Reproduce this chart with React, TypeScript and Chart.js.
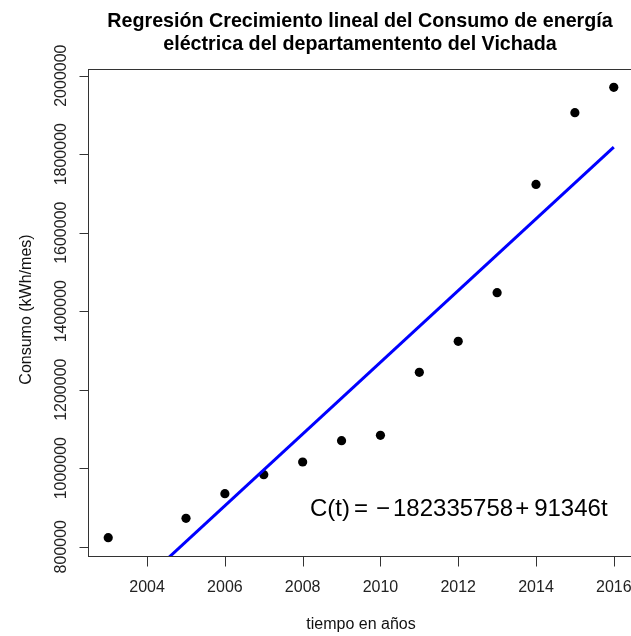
import { useEffect, useRef } from 'react';
import { Chart, registerables } from 'chart.js';

Chart.register(...registerables);

// Consumo anual de energía eléctrica (kWh/mes) del Vichada
const years = [2003, 2005, 2006, 2007, 2008, 2009, 2010, 2011, 2012, 2013, 2014, 2015, 2016];
const consumo = [
  823000, 872400, 935000, 983400, 1015800, 1070000, 1083800,
  1244300, 1323300, 1447100, 1723000, 1905700, 1970400,
];

// Coeficientes de la recta de regresión C(t) = a + b t
const intercept = -182335758;
const slope = 91346;

const xTicks = [2004, 2006, 2008, 2010, 2012, 2014, 2016];
const yTicks = [800000, 1000000, 1200000, 1400000, 1600000, 1800000, 2000000];

const titleLines = [
  'Regresión Crecimiento lineal del Consumo de energía',
  'eléctrica del departamentento del Vichada',
];
const xTitle = 'tiempo en años';
const yTitle = 'Consumo (kWh/mes)';

// Rango de ejes con la extensión del 4 % usada por R
const xMin = 2002.48;
const xMax = 2016.52;
const yMin = 776300;
const yMax = 2017000;

const FONT = "'Liberation Sans', Arial, sans-serif";

const decorations = {
  id: 'rDecorations',
  afterDatasetsDraw(chart: any) {
    const { ctx, chartArea } = chart;
    const xs = chart.scales.x;
    const ys = chart.scales.y;
    const left = Math.round(chartArea.left) + 0.5;
    const top = Math.round(chartArea.top) + 0.5;
    const right = Math.round(chartArea.right) + 0.5;
    const bottom = Math.round(chartArea.bottom) + 0.5;
    const cx = (chartArea.left + chartArea.right) / 2;

    ctx.save();
    // caja del gráfico
    ctx.strokeStyle = '#333';
    ctx.lineWidth = 1;
    ctx.strokeRect(left, top, right - left, bottom - top);

    // marcas y etiquetas del eje x
    ctx.fillStyle = '#222';
    ctx.font = `16px ${FONT}`;
    ctx.textAlign = 'center';
    ctx.textBaseline = 'alphabetic';
    ctx.beginPath();
    for (const v of xTicks) {
      const px = Math.round(xs.getPixelForValue(v)) + 0.5;
      ctx.moveTo(px, bottom);
      ctx.lineTo(px, bottom + 10);
    }
    ctx.stroke();
    for (const v of xTicks) {
      ctx.fillText(String(v), xs.getPixelForValue(v), 592);
    }

    // marcas y etiquetas del eje y (verticales)
    ctx.beginPath();
    for (const v of yTicks) {
      const py = Math.round(ys.getPixelForValue(v)) + 0.5;
      ctx.moveTo(left, py);
      ctx.lineTo(left - 9, py);
    }
    ctx.stroke();
    for (const v of yTicks) {
      ctx.save();
      ctx.translate(65.5, ys.getPixelForValue(v));
      ctx.rotate(-Math.PI / 2);
      ctx.fillText(String(v), 0, 0);
      ctx.restore();
    }

    // títulos de ejes
    ctx.fillStyle = '#111';
    ctx.fillText(xTitle, cx, 629);
    ctx.save();
    ctx.translate(30.5, (chartArea.top + chartArea.bottom) / 2 - 3);
    ctx.rotate(-Math.PI / 2);
    ctx.fillText(yTitle, 0, 0);
    ctx.restore();

    // título principal
    ctx.fillStyle = '#000';
    ctx.font = `bold 19.7px ${FONT}`;
    ctx.fillText(titleLines[0], cx - 1, 27);
    ctx.fillText(titleLines[1], cx - 1, 50);

    // ecuación de la recta ajustada
    ctx.font = `24px ${FONT}`;
    ctx.textAlign = 'left';
    const sign = intercept < 0 ? '\u2212' : '';
    const pieces: [string, number][] = [
      ['C(t)', 4],
      ['=', 8],
      [sign, 3],
      [String(Math.abs(intercept)), 2],
      ['+', 5],
      [`${slope}t`, 0],
    ];
    let x = 310;
    for (const [txt, gap] of pieces) {
      if (!txt) continue;
      ctx.fillText(txt, x, 516);
      x += ctx.measureText(txt).width + gap;
    }
    ctx.restore();
  },
};

export default function App() {
  const canvasRef = useRef<HTMLCanvasElement | null>(null);

  useEffect(() => {
    const canvas = canvasRef.current;
    if (!canvas) return;
    const points = years.map((y, i) => ({ x: y, y: consumo[i] }));
    const t0 = years[0];
    const t1 = years[years.length - 1];
    const fit = [
      { x: t0, y: intercept + slope * t0 },
      { x: t1, y: intercept + slope * t1 },
    ];
    const chart = new Chart(canvas, {
      type: 'scatter',
      data: {
        datasets: [
          {
            type: 'line',
            data: fit,
            borderColor: '#0000ff',
            borderWidth: 3,
            pointRadius: 0,
            fill: false,
            clip: 0,
          } as any,
          {
            data: points,
            pointRadius: 4.6,
            pointHoverRadius: 4.6,
            backgroundColor: '#000',
            borderColor: '#000',
            borderWidth: 0,
          },
        ],
      },
      options: {
        responsive: false,
        animation: false,
        events: [],
        layout: { padding: { left: 88, top: 69, right: 6, bottom: 80 } },
        scales: {
          x: { type: 'linear', display: false, min: xMin, max: xMax },
          y: { type: 'linear', display: false, min: yMin, max: yMax },
        },
        plugins: {
          legend: { display: false },
          tooltip: { enabled: false },
          title: { display: false },
        },
      },
      plugins: [decorations],
    });
    return () => chart.destroy();
  }, []);

  return (
    <div
      style={{
        position: 'absolute',
        left: 0,
        top: 0,
        width: 631,
        height: 636,
        overflow: 'hidden',
        background: '#fff',
      }}
    >
      <canvas
        ref={canvasRef}
        width={640}
        height={636}
        style={{ display: 'block', width: 640, height: 636 }}
      />
    </div>
  );
}
